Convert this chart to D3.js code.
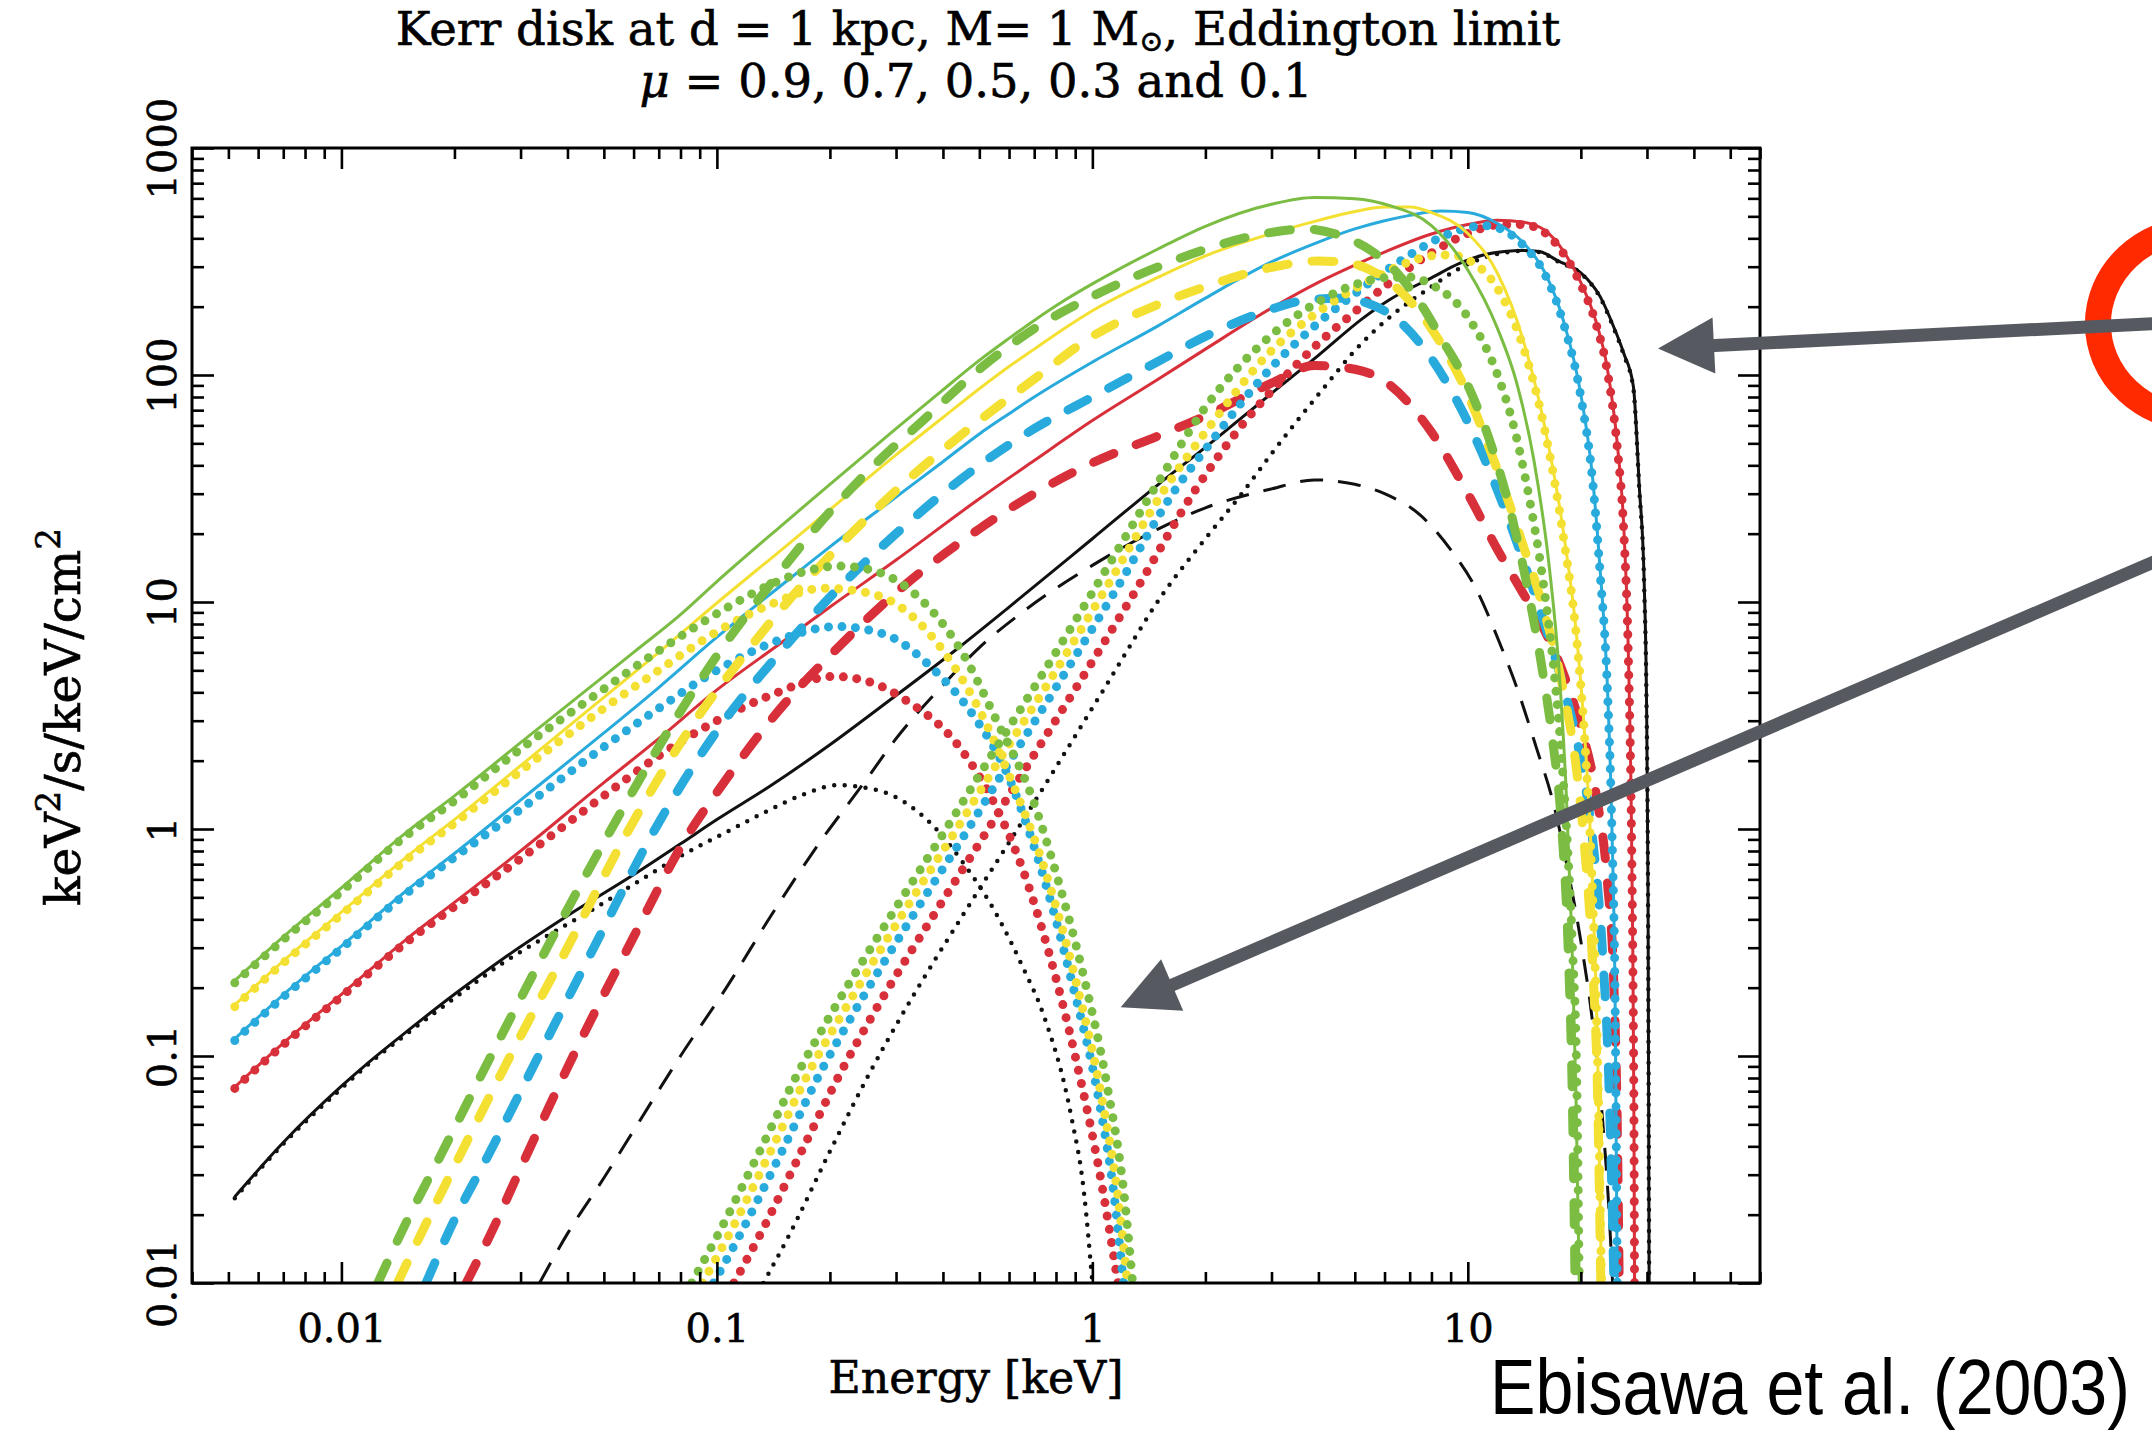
<!DOCTYPE html>
<html><head><meta charset="utf-8">
<script src="https://cdn.jsdelivr.net/npm/d3@7"></script>
<style>body{margin:0;background:#fff;}svg{display:block;}</style>
</head><body>
<svg id="chart" width="2152" height="1441"></svg>
<script>
// ---------------- DATA (energy keV, flux keV^2/s/keV/cm^2) ----------------
const energyTicks = [0.01, 0.1, 1, 10];
const fluxTicks = [0.01, 0.1, 1, 10, 100, 1000];
const energyDomain = [0.004, 60];
const fluxDomain = [0.01, 1000];
const muValues = ["0.9", "0.7", "0.5", "0.3", "0.1"];

// total spectra (solid)
const greenTotal = [[0.0052,0.215],[0.007,0.335],[0.01,0.55],[0.0147,0.95],[0.02,1.4],[0.03,2.4],[0.045,4.1],[0.06,6.0],[0.08,8.8],[0.1,12.3],[0.15,22],[0.2,33],[0.3,58],[0.4,86],[0.5,116],[0.6,145],[0.7,174],[0.85,215],[1,252],[1.5,360],[2,452],[3,565],[3.9,605],[5,598],[6.2,557],[8,455],[10,290],[12,160],[13.5,92],[15,42],[16.5,14],[17.5,5],[18.3,1.4],[18.9,0.35],[19.4,0.07],[19.8,0.01]];
const yellowTotal = [[0.0052,0.168],[0.007,0.262],[0.01,0.43],[0.015,0.76],[0.02,1.1],[0.03,1.9],[0.05,3.8],[0.07,6.0],[0.1,9.9],[0.15,17.2],[0.2,25.5],[0.3,44.5],[0.4,65],[0.5,87],[0.6,109],[0.7,130],[0.85,162],[1,192],[1.5,270],[2,335],[3,420],[4,480],[5,525],[6,550],[7,550],[8,520],[10,420],[12,280],[14,145],[16,60],[18,20],[19.5,7],[20.5,2.5],[21.5,0.55],[22.2,0.09],[22.7,0.01]];
const blueTotal = [[0.0052,0.119],[0.007,0.186],[0.01,0.305],[0.015,0.54],[0.02,0.78],[0.03,1.34],[0.05,2.65],[0.07,4.2],[0.1,7.0],[0.15,12],[0.2,17.5],[0.3,29],[0.4,41.5],[0.5,55],[0.6,67.5],[0.7,80],[1,114],[1.5,165],[2,218],[3,315],[4,385],[5,440],[6,478],[7,505],[8.5,528],[10,520],[12,465],[14,385],[16,285],[18,172],[20,82],[21.5,35],[22.5,14],[23.5,4.5],[24.2,1.0],[24.7,0.15],[25,0.01]];
const redTotal = [[0.0052,0.073],[0.007,0.114],[0.01,0.187],[0.015,0.33],[0.02,0.475],[0.03,0.8],[0.05,1.6],[0.07,2.5],[0.1,4.1],[0.15,6.7],[0.2,9.5],[0.3,15.3],[0.5,28.5],[0.7,42],[1,63],[1.5,96],[2,130],[3,197],[4,256],[5,305],[6,348],[8,418],[10,460],[12,480],[14,472],[16,435],[18,350],[20,255],[22,170],[23.5,108],[25,50],[26,22],[26.7,7],[27.2,1.5],[27.5,0.3],[27.7,0.05],[27.8,0.01]];
const blackTotal = [[0.0052,0.024],[0.007,0.0416],[0.01,0.0736],[0.0118,0.0935],[0.015,0.129],[0.02,0.187],[0.027,0.269],[0.04,0.415],[0.061,0.64],[0.08,0.86],[0.1,1.1],[0.139,1.55],[0.2,2.35],[0.289,3.7],[0.43,6.1],[0.6,9.5],[1,19],[1.5,33],[2,48],[3,83],[4,122],[5.26,178],[6.2,215],[8,268],[9.5,310],[11,338],[12.5,350],[14,354],[15.5,350],[17.4,318],[20,282],[22.5,222],[24.5,162],[26,125],[27.6,89],[28.6,33],[29.5,12],[29.9,4],[30.2,0.5],[30.4,0.01]];

// dashed component
const greenDashed = [[0.0125,0.01],[0.015,0.019],[0.0183,0.036],[0.0254,0.105],[0.0353,0.3],[0.052,0.98],[0.08,3.3],[0.1,5.8],[0.139,12],[0.2,25],[0.254,38],[0.35,62],[0.514,110],[0.7,160],[1,222],[1.5,300],[2,358],[3,425],[3.7,440],[4.6,410],[5.5,355],[6.5,280],[7.5,205],[8.5,145],[10,90],[11.5,50],[13,25],[14.5,11],[15.8,5],[16.8,2.5],[17.8,1.0],[18.5,0.3],[19,0.06],[19.3,0.01]];
const yellowDashed = [[0.0141,0.01],[0.017,0.019],[0.0206,0.036],[0.0286,0.105],[0.04,0.3],[0.058,0.98],[0.09,3.2],[0.115,5.5],[0.15,9.5],[0.2,16],[0.3,31],[0.5,63],[0.7,96],[1,148],[1.5,205],[2,245],[3,298],[4,318],[4.8,312],[5.5,290],[6.5,240],[8,160],[10,82],[12,38],[14,18],[16,9],[18,4],[19.5,1.8],[20.5,0.8],[21.5,0.25],[22.2,0.06],[22.6,0.01]];
const blueDashed = [[0.0168,0.01],[0.02,0.019],[0.0245,0.036],[0.034,0.105],[0.047,0.3],[0.068,0.98],[0.1,2.7],[0.15,6.2],[0.2,10.5],[0.3,20],[0.5,40],[0.7,58],[1,80],[1.5,115],[2,148],[3,195],[3.6,212],[4.5,218],[5.5,205],[6.5,175],[8,118],[10,62],[12,31],[14,15.5],[16,8],[18,4.2],[20,2.0],[21.5,0.9],[22.8,0.3],[23.8,0.07],[24.5,0.01]];
const redDashed = [[0.0215,0.01],[0.025,0.0165],[0.031,0.036],[0.042,0.105],[0.058,0.3],[0.085,0.98],[0.1,1.45],[0.15,3.5],[0.2,5.8],[0.3,11],[0.5,21],[0.7,30],[1,41],[1.5,54],[2,66],[3,92],[3.9,110],[5,106],[6,94],[8,56],[10,30],[12,17],[14,11],[16,7.5],[18,4.8],[20,2.8],[22,1.4],[23.5,0.6],[24.5,0.2],[25,0.05],[25.3,0.01]];
const blackDashed = [[0.0337,0.01],[0.04,0.0165],[0.05,0.029],[0.061,0.049],[0.08,0.1],[0.106,0.2],[0.14,0.42],[0.183,0.82],[0.25,1.65],[0.3,2.5],[0.4,4.3],[0.5,6.3],[0.65,9.0],[1,14.5],[1.5,21],[2,26],[3,31.5],[3.9,34.5],[5,33],[6,30],[7.5,24],[9,17],[10.5,11.5],[12.2,6.5],[13.5,4.2],[15.2,2.3],[17,1.25],[18.5,0.65],[20,0.32],[21.5,0.14],[22.9,0.05],[23.8,0.02],[24.3,0.01]];

// dotted component, soft bump
const greenDotSoft = [[0.0052,0.21],[0.007,0.325],[0.01,0.53],[0.0147,0.92],[0.02,1.33],[0.03,2.25],[0.0465,3.8],[0.07,6.1],[0.106,9.4],[0.14,12],[0.183,14],[0.21,14.4],[0.25,14],[0.327,11.3],[0.442,6.3],[0.565,2.84],[0.685,1.43],[0.807,0.61],[0.951,0.22],[1.09,0.077],[1.22,0.023],[1.28,0.01]];
const yellowDotSoft = [[0.0052,0.165],[0.007,0.257],[0.01,0.42],[0.015,0.74],[0.02,1.06],[0.03,1.8],[0.05,3.4],[0.07,5.0],[0.1,7.4],[0.14,9.8],[0.192,11.5],[0.25,11],[0.3,9.8],[0.375,7.0],[0.493,3.5],[0.597,1.76],[0.743,0.68],[0.9,0.22],[1.06,0.065],[1.17,0.024],[1.24,0.01]];
const blueDotSoft = [[0.0052,0.117],[0.007,0.182],[0.01,0.298],[0.015,0.525],[0.02,0.75],[0.03,1.22],[0.05,2.3],[0.07,3.4],[0.1,5.0],[0.14,6.6],[0.209,7.8],[0.28,7.2],[0.375,5.1],[0.493,3.0],[0.58,1.9],[0.72,0.72],[0.877,0.22],[1.05,0.059],[1.14,0.025],[1.21,0.01]];
const redDotSoft = [[0.0052,0.072],[0.007,0.112],[0.01,0.183],[0.015,0.32],[0.02,0.455],[0.03,0.74],[0.05,1.4],[0.07,2.1],[0.1,3.0],[0.14,3.9],[0.205,4.7],[0.26,4.4],[0.318,3.7],[0.442,2.3],[0.55,1.28],[0.649,0.68],[0.764,0.29],[0.9,0.1],[1.06,0.027],[1.17,0.01]];
const blackDotSoft = [[0.0052,0.0236],[0.007,0.041],[0.01,0.072],[0.0118,0.092],[0.015,0.126],[0.02,0.18],[0.027,0.258],[0.035,0.335],[0.0465,0.44],[0.061,0.58],[0.08,0.76],[0.106,0.97],[0.139,1.22],[0.17,1.42],[0.209,1.56],[0.26,1.5],[0.3,1.38],[0.375,1.04],[0.45,0.72],[0.565,0.4],[0.65,0.25],[0.743,0.15],[0.877,0.055],[0.95,0.025],[1.0,0.01]];

// dotted component, hard bump
const greenDotHard = [[0.0857,0.01],[0.1,0.016],[0.13,0.038],[0.165,0.085],[0.2,0.15],[0.3,0.45],[0.4,0.95],[0.528,2.0],[0.7,4.2],[1,11],[1.47,32],[2,72],[3,150],[4,210],[5,250],[6,268],[7,270],[8,250],[10,180],[12,100],[13.3,58],[14.5,30],[15.9,12],[17,4.8],[17.8,2],[18.5,0.75],[19,0.3],[19.5,0.08],[19.8,0.01]];
const yellowDotHard = [[0.0915,0.01],[0.107,0.016],[0.139,0.038],[0.176,0.085],[0.214,0.15],[0.32,0.45],[0.427,0.95],[0.564,2.0],[0.75,4.2],[1.07,11],[1.57,32],[2,56],[3,128],[4,190],[5,240],[6,282],[7,315],[8,335],[9,338],[10,322],[12,240],[14,135],[16,58],[18,19],[19.5,6.8],[20.5,2.4],[21.5,0.5],[22.2,0.085],[22.7,0.01]];
const blueDotHard = [[0.098,0.01],[0.1145,0.016],[0.149,0.038],[0.189,0.085],[0.229,0.15],[0.343,0.45],[0.458,0.95],[0.604,2.0],[0.8,4.2],[1.144,11],[1.68,32],[2,47],[3,108],[4,170],[5,228],[6,285],[7,338],[8.5,405],[10,445],[11,455],[12,445],[14,375],[16,280],[18,168],[20,80],[21.5,34],[22.5,13.5],[23.5,4.4],[24.2,0.97],[24.7,0.145],[25,0.01]];
const redDotHard = [[0.111,0.01],[0.1295,0.016],[0.168,0.038],[0.214,0.085],[0.259,0.15],[0.389,0.45],[0.518,0.95],[0.684,2.0],[0.906,4.2],[1.295,11],[1.9,32],[2.5,60],[3,85],[4,138],[5,190],[6,245],[8,345],[10,420],[12,458],[14,460],[16,425],[18,342],[20,250],[22,166],[23.5,105],[25,48],[26,21],[26.7,6.7],[27.2,1.4],[27.5,0.28],[27.7,0.05],[27.8,0.01]];
const blackDotHard = [[0.133,0.01],[0.155,0.016],[0.2,0.038],[0.256,0.085],[0.31,0.15],[0.465,0.45],[0.62,0.95],[0.82,2.0],[1.08,4.2],[1.55,11],[2,19],[2.5,30],[3,45],[4,82],[5.26,140],[6.2,180],[8,245],[9.5,295],[11,328],[12.5,346],[14,352],[15.5,348],[17.4,316],[20,280],[22.5,220],[24.5,160],[26,123],[27.6,87],[28.6,32],[29.5,11.5],[29.9,3.8],[30.2,0.48],[30.4,0.01]];

// annotation anchors (data space: keV, flux)
const arrowUpper = {from: [697, 169], to: [32.1, 131]};
const arrowLower = {from: [741, 16.1], to: [1.19, 0.164]};
const ellipseCenter = [891, 168];

// ---------------- STYLE / LAYOUT ----------------
const layout = {left: 192, right: 1760, top: 148, bottom: 1283};
const palette = {green: "#7bbd43", yellow: "#f4e032", blue: "#28aadc", red: "#d8303a", black: "#111111"};
const styleColored = {
  solid:  {w: 3, dash: null, cap: "butt"},
  dashed: {w: 9, dash: "22,24", cap: "round"},
  dotted: {w: 9, dash: "0,13.5", cap: "round"}
};
const styleBlack = {
  solid:  {w: 3, dash: null, cap: "butt"},
  dashed: {w: 3, dash: "23,15", cap: "butt"},
  dotted: {w: 4.5, dash: "0,10.5", cap: "round"}
};
const serif = "'DejaVu Serif', 'Liberation Serif', serif";

const groups = [
  {color: palette.black, st: styleBlack, sets: [["solid", blackTotal], ["dashed", blackDashed], ["dotted", blackDotSoft], ["dotted", blackDotHard]]},
  {color: palette.red, st: styleColored, sets: [["solid", redTotal], ["dashed", redDashed], ["dotted", redDotSoft], ["dotted", redDotHard]]},
  {color: palette.blue, st: styleColored, sets: [["solid", blueTotal], ["dashed", blueDashed], ["dotted", blueDotSoft], ["dotted", blueDotHard]]},
  {color: palette.yellow, st: styleColored, sets: [["solid", yellowTotal], ["dashed", yellowDashed], ["dotted", yellowDotSoft], ["dotted", yellowDotHard]]},
  {color: palette.green, st: styleColored, sets: [["solid", greenTotal], ["dashed", greenDashed], ["dotted", greenDotSoft], ["dotted", greenDotHard]]}
];

// ---------------- DRAW ----------------
const svg = d3.select("#chart");
svg.append("rect").attr("width", 2152).attr("height", 1441).attr("fill", "#fff");

const x = d3.scaleLog().domain(energyDomain).range([layout.left, layout.right]);
const y = d3.scaleLog().domain(fluxDomain).range([layout.bottom, layout.top]);

svg.append("clipPath").attr("id", "plotclip").append("rect")
  .attr("x", layout.left).attr("y", layout.top)
  .attr("width", layout.right - layout.left).attr("height", layout.bottom - layout.top);

const line = d3.line().x(d => x(d[0])).y(d => y(d[1])).curve(d3.curveMonotoneX);
const plot = svg.append("g").attr("clip-path", "url(#plotclip)");
groups.forEach(g => {
  g.sets.forEach(([kind, data]) => {
    const s = g.st[kind];
    plot.append("path").datum(data)
      .attr("d", line)
      .attr("fill", "none")
      .attr("stroke", g.color)
      .attr("stroke-width", s.w)
      .attr("stroke-linecap", s.cap)
      .attr("stroke-linejoin", "round")
      .attr("stroke-dasharray", s.dash);
  });
});

// axes
const isMajor = v => Math.abs(Math.log10(v) - Math.round(Math.log10(v))) < 1e-6;
const inList = (list, v) => list.some(t => Math.abs(t - v) / t < 1e-6);
const xt = x.ticks(), yt = y.ticks();

function styleTicks(g, attr, majorLen, minorLen) {
  g.select(".domain").remove();
  g.selectAll(".tick line").attr(attr, d => (isMajor(d) ? majorLen : minorLen))
    .attr("stroke", "#000").attr("stroke-width", 2.6);
}
const labelStyle = sel => sel.attr("font-family", serif).attr("fill", "#000")
  .attr("stroke", "#000").attr("stroke-width", 0.6);

const axB = svg.append("g").attr("transform", `translate(0,${layout.bottom})`)
  .call(d3.axisBottom(x).tickValues(xt).tickSize(0).tickFormat(d => inList(energyTicks, d) ? String(d) : ""));
styleTicks(axB, "y2", -21, -11);
axB.selectAll(".tick text").attr("y", 59).attr("dy", null).attr("font-size", 40).call(labelStyle);

const axT = svg.append("g").attr("transform", `translate(0,${layout.top})`)
  .call(d3.axisTop(x).tickValues(xt).tickSize(0).tickFormat(""));
styleTicks(axT, "y2", 21, 11);

const axL = svg.append("g").attr("transform", `translate(${layout.left},0)`)
  .call(d3.axisLeft(y).tickValues(yt).tickSize(0).tickFormat(d => inList(fluxTicks, d) ? String(d) : ""));
styleTicks(axL, "x2", 22, 12);
axL.selectAll(".tick text").attr("x", null).attr("dy", null).attr("text-anchor", "middle")
  .attr("transform", "translate(-16,0) rotate(-90)").attr("font-size", 40).call(labelStyle);

const axR = svg.append("g").attr("transform", `translate(${layout.right},0)`)
  .call(d3.axisRight(y).tickValues(yt).tickSize(0).tickFormat(""));
styleTicks(axR, "x2", -22, -12);

svg.append("rect").attr("x", layout.left).attr("y", layout.top)
  .attr("width", layout.right - layout.left).attr("height", layout.bottom - layout.top)
  .attr("fill", "none").attr("stroke", "#000").attr("stroke-width", 3);

// text helpers
function fit(sel, target) {
  const w = sel.node().getComputedTextLength();
  const fs = parseFloat(sel.attr("font-size"));
  if (w > 0) sel.attr("font-size", fs * target / w);
}
const cx = (layout.left + layout.right) / 2 + 2;

// title
const t1 = svg.append("text").attr("x", cx).attr("y", 45).attr("text-anchor", "middle")
  .attr("font-size", 38).call(labelStyle);
t1.append("tspan").text("Kerr disk at d = 1 kpc, M= 1 M");
t1.append("tspan").attr("baseline-shift", "-0.22em").style("font-size", "62%").text("⊙");
t1.append("tspan").text(", Eddington limit");
fit(t1, 1165);

const t2 = svg.append("text").attr("x", cx - 2).attr("y", 97).attr("text-anchor", "middle")
  .attr("font-size", 38).call(labelStyle);
t2.append("tspan").attr("font-style", "italic").text("μ");
t2.append("tspan").text(" = " + muValues.slice(0, 4).join(", ") + " and " + muValues[4]);
fit(t2, 673);

// axis labels
const xl = svg.append("text").attr("x", 976).attr("y", 1393).attr("text-anchor", "middle")
  .attr("font-size", 40).call(labelStyle).text("Energy [keV]");
fit(xl, 295);

const yl = svg.append("text").attr("transform", "translate(80,717) rotate(-90)")
  .attr("text-anchor", "middle").attr("font-size", 40).call(labelStyle);
yl.append("tspan").text("keV");
yl.append("tspan").attr("baseline-shift", "super").style("font-size", "70%").text("2");
yl.append("tspan").text("/s/keV/cm");
yl.append("tspan").attr("baseline-shift", "super").style("font-size", "70%").text("2");
fit(yl, 378);

// citation: horizontally condensed via transform so its real box fits the page
const citeG = svg.append("g");
const cite = citeG.append("text").attr("x", 0).attr("y", 0)
  .attr("font-family", "'Liberation Sans Narrow', 'Arial Narrow', 'Liberation Sans', sans-serif")
  .attr("font-size", 78).attr("fill", "#000")
  .text("Ebisawa et al. (2003)");
const citeW = cite.node().getComputedTextLength();
const citeTarget = 640;
citeG.attr("transform", `translate(1490,1414) scale(${citeTarget / citeW},1)`);

// annotations
svg.append("ellipse").attr("cx", x(ellipseCenter[0])).attr("cy", y(ellipseCenter[1]))
  .attr("rx", 102).attr("ry", 95).attr("fill", "none").attr("stroke", "#ff2a00").attr("stroke-width", 26);

function arrow(a) {
  const x0 = x(a.from[0]), y0 = y(a.from[1]), x1 = x(a.to[0]), y1 = y(a.to[1]);
  const L = Math.hypot(x1 - x0, y1 - y0), ux = (x1 - x0) / L, uy = (y1 - y0) / L;
  const headL = 56, headW = 28;
  const bx = x1 - ux * headL, by = y1 - uy * headL;
  svg.append("line").attr("x1", x0).attr("y1", y0).attr("x2", bx + ux * 4).attr("y2", by + uy * 4)
    .attr("stroke", "#565a60").attr("stroke-width", 13);
  svg.append("path").attr("d", `M${x1},${y1}L${bx - uy * headW},${by + ux * headW}L${bx + uy * headW},${by - ux * headW}Z`)
    .attr("fill", "#565a60");
}
arrow(arrowUpper);
arrow(arrowLower);
</script>
</body></html>
